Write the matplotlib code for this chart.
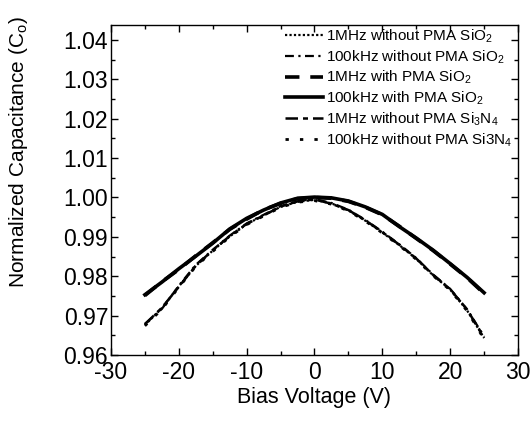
import matplotlib
matplotlib.use('Agg')
import numpy as np
import matplotlib.pyplot as plt
from matplotlib.ticker import MultipleLocator, FormatStrFormatter

plt.rcParams['font.family'] = ['Liberation Sans', 'DejaVu Sans']
plt.rcParams['mathtext.fontset'] = 'custom'
plt.rcParams['mathtext.rm'] = 'Liberation Sans'
plt.rcParams['mathtext.it'] = 'Liberation Sans'
plt.rcParams['axes.unicode_minus'] = False

# bias voltage (V)
bias = [-25, -22.5, -20, -17.5, -15, -12.5, -10, -7.5, -5, -2.5, 0,
        2.5, 5, 7.5, 10, 12.5, 15, 17.5, 20, 22.5, 25]

# normalized capacitance
c_1m_nopma_sio2 = [0.9676, 0.9719, 0.9774, 0.9826, 0.9865, 0.9901, 0.9932, 0.9955, 0.9976, 0.9989, 0.9994,
                   0.9985, 0.9967, 0.9941, 0.9911, 0.9879, 0.9844, 0.9802, 0.9766, 0.9713, 0.9643]
c_100k_nopma_sio2 = [0.9679, 0.9717, 0.9776, 0.9829, 0.9867, 0.9903, 0.9934, 0.9956, 0.9978, 0.9991, 0.9996,
                     0.9986, 0.9969, 0.9943, 0.9913, 0.9881, 0.9846, 0.9804, 0.9768, 0.9716, 0.9647]
c_1m_pma_sio2 = [0.9751, 0.9786, 0.9817, 0.9852, 0.9885, 0.9919, 0.9945, 0.9969, 0.9985, 0.9997, 1.0000,
                 0.9998, 0.9990, 0.9975, 0.9956, 0.9927, 0.9896, 0.9865, 0.9831, 0.9796, 0.9756]
c_100k_pma_sio2 = [0.9753, 0.9785, 0.9819, 0.9851, 0.9884, 0.9920, 0.9947, 0.9968, 0.9986, 0.9998, 1.0001,
                   0.9999, 0.9991, 0.9976, 0.9957, 0.9926, 0.9897, 0.9866, 0.9832, 0.9797, 0.9758]
c_1m_nopma_si3n4 = [0.9678, 0.9720, 0.9773, 0.9827, 0.9866, 0.9902, 0.9933, 0.9954, 0.9977, 0.9990, 0.9995,
                    0.9984, 0.9968, 0.9942, 0.9912, 0.9880, 0.9845, 0.9803, 0.9767, 0.9715, 0.9645]
c_100k_nopma_si3n4 = [0.9674, 0.9716, 0.9772, 0.9825, 0.9863, 0.9900, 0.9931, 0.9953, 0.9975, 0.9988, 0.9992,
                      0.9983, 0.9966, 0.9940, 0.9910, 0.9878, 0.9843, 0.9801, 0.9765, 0.9712, 0.9640]

labels = ['1MHz without PMA SiO$_2$',
          '100kHz without PMA SiO$_2$',
          '1MHz with PMA SiO$_2$',
          '100kHz with PMA SiO$_2$',
          '1MHz without PMA Si$_3$N$_4$',
          '100kHz without PMA Si3N$_4$']

fig = plt.figure(figsize=(5.32, 4.22), dpi=100)
ax = fig.add_axes([0.2086, 0.1588, 0.7651, 0.7820])

ax.plot(bias, c_1m_nopma_sio2, color='black', lw=1.6, linestyle=(0, (1, 1)), label=labels[0])
ax.plot(bias, c_100k_nopma_sio2, color='black', lw=1.6, linestyle=(0, (4, 2, 1, 2)), label=labels[1])
ax.plot(bias, c_1m_pma_sio2, color='black', lw=2.6, linestyle=(0, (4, 3)), label=labels[2])
ax.plot(bias, c_100k_pma_sio2, color='black', lw=2.6, linestyle='-', label=labels[3])
ax.plot(bias, c_1m_nopma_si3n4, color='black', lw=1.8, linestyle=(0, (5, 2, 2, 2)), label=labels[4])
ax.plot(bias, c_100k_nopma_si3n4, color='black', lw=2.0, linestyle=(0, (1.2, 4)), label=labels[5])

ax.set_xlim(-30, 30)
ax.set_ylim(0.96, 1.0438)
ax.xaxis.set_major_locator(MultipleLocator(10))
ax.xaxis.set_minor_locator(MultipleLocator(5))
ax.yaxis.set_major_locator(MultipleLocator(0.01))
ax.yaxis.set_minor_locator(MultipleLocator(0.005))
ax.yaxis.set_major_formatter(FormatStrFormatter('%.2f'))
ax.tick_params(which='both', direction='in', top=True, right=True, labelsize=16.5, width=1)
ax.tick_params(which='major', length=5)
ax.tick_params(which='minor', length=3)
ax.tick_params(axis='x', pad=4.5)
ax.tick_params(axis='y', pad=2)
for s in ax.spines.values():
    s.set_linewidth(1)

ax.set_xlabel('Bias Voltage (V)', fontsize=15.5, labelpad=2)
ax.set_ylabel('Normalized Capacitance (C$_o$)', fontsize=15)
ax.yaxis.set_label_coords(-0.199, 0.615)

ax.legend(loc='upper left', bbox_to_anchor=(0.536, 0.935), bbox_transform=fig.transFigure,
          frameon=False, fontsize=11, handlelength=2.5, handletextpad=0.15,
          labelspacing=0.22, borderpad=0, borderaxespad=0)

plt.savefig('out.png', dpi=100)
